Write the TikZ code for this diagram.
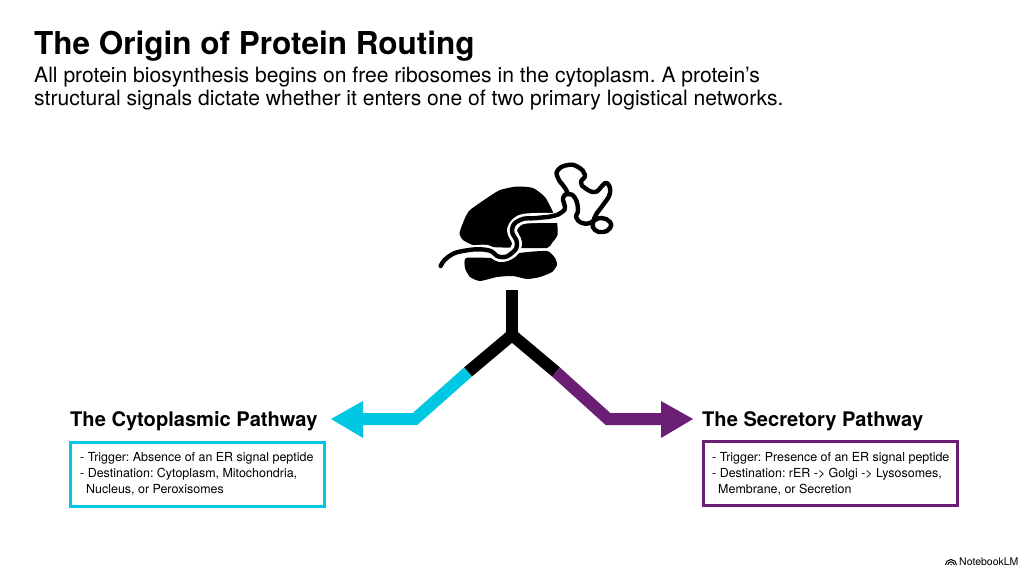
\documentclass[tikz,border=0pt]{standalone}
\usepackage{fontspec}
\setmainfont{TeX Gyre Heros}
\frenchspacing
\definecolor{cytocol}{RGB}{0,200,227}
\definecolor{secrcol}{RGB}{106,31,116}
\begin{document}
\begin{tikzpicture}[x=1pt,y=-1pt,
  headline/.style={anchor=base west,inner sep=0pt,font=\fontsize{20.1}{24}\selectfont\bfseries},
  infobox/.style={draw=#1,line width=3pt,minimum width=254pt,minimum height=64pt,anchor=north west,inner sep=0pt},
  infotext/.style={anchor=north west,inner sep=0pt,align=left,font=\fontsize{12.45}{16.2}\selectfont},
  branch/.style={line width=12pt,line join=miter,line cap=butt},
  tiphead/.style={fill=#1,draw=none},
  chain/.style={line width=4.4pt,line cap=round,line join=round}]
\useasboundingbox (0,0) rectangle (1024,572);
% heading
\node[anchor=base west,inner sep=0pt,font=\fontsize{31.5}{36}\selectfont\bfseries] (title) at (34,55) {The Origin of Protein Routing};
\node[anchor=north west,inner sep=0pt,align=left,font=\fontsize{21.1}{23}\selectfont] (intro) at (34,67)
  {All protein biosynthesis begins on free ribosomes in the cytoplasm. A protein’s\\
   structural signals dictate whether it enters one of two primary logistical networks.};
% ribosome subunits
\fill plot[smooth cycle,tension=0.35] coordinates {(459.5,233) (465,218) (470,210) (487,198) (500,190) (517,186.5) (533,188) (545,197) (552,210) (557,222) (557.5,235) (552,243) (547,248) (520,248) (490,247) (473,245) (463,240)};
\fill plot[smooth cycle,tension=0.35] coordinates {(466,258) (490,258) (503,260) (520,253) (547,251) (555,258) (557,265) (552,272) (540,277) (527,279) (513,276) (497,277) (480,281) (470,277) (465,268)};
% nascent chain: halo over the ribosome, then the strand and its folded end
\draw[white,line width=10pt,line cap=round,line join=round] plot[smooth,tension=0.6] coordinates {(470,251) (487,250) (500,257) (512,253) (517,243) (512,230) (520,220) (537,218) (557,218)};
\draw[chain] plot[smooth,tension=0.85] coordinates {(440.7,266) (448,257) (463,251) (487,250) (500,257) (512,253) (517,243) (512,230) (520,220) (537,218) (553,216) (562,212) (565,207) (563,198) (568,194) (575,198) (578,210) (576,217) (582,223) (590,223) (595,220) (602,218) (610,222) (610,228) (603,232) (595,230) (593,223) (597,213) (603,205) (610,193) (607,183) (602,186) (595,192) (585,188) (581,182) (585,175) (578,167) (568,165) (558,170) (558,178) (565,188) (568,194)};
% stem and black part of the branches
\coordinate (stemtop) at (512,290);
\coordinate (fork) at (512,335);
\coordinate (leftjoin) at (468,372);
\coordinate (rightjoin) at (556,372);
\draw[branch] (stemtop) -- (fork);
\draw[branch] (leftjoin) -- (fork) -- (rightjoin);
% coloured branches with arrow heads
\coordinate (leftbend) at (415,419);
\coordinate (rightbend) at (608,419);
\coordinate (lefthead) at (363,419);
\coordinate (righthead) at (662,419);
\draw[branch,cytocol] (leftjoin) -- (leftbend) -- (lefthead);
\draw[branch,secrcol] (rightjoin) -- (rightbend) -- (righthead);
\fill[tiphead=cytocol] (331,419) -- (363,401) -- (363,438) -- cycle;
\fill[tiphead=secrcol] (693,419) -- (661,401) -- (661,438) -- cycle;
% pathway panels
\node[headline] (cytohead) at (70,426) {The Cytoplasmic Pathway};
\node[infobox=cytocol] (cytobox) at (69.3,440.5) {};
\node[infotext] (cytotext) at (80,452) {- Trigger: Absence of an ER signal peptide\\- Destination: Cytoplasm, Mitochondria,\\\hspace*{6pt}Nucleus, or Peroxisomes};
\node[headline] (secrhead) at (702,426) {The Secretory Pathway};
\node[infobox=secrcol] (secrbox) at (701.7,440.3) {};
\node[infotext] (secrtext) at (712,452) {- Trigger: Presence of an ER signal peptide\\- Destination: rER -> Golgi -> Lysosomes,\\\hspace*{6pt}Membrane, or Secretion};
% footer mark
\node[anchor=base west,inner sep=0pt,font=\fontsize{10.5}{12}\selectfont] (brand) at (959,565) {NotebookLM};
\draw[line width=1pt] (945.5,565) arc[start angle=180,end angle=360,radius=5.5];
\draw[line width=1pt] (947.8,565) arc[start angle=180,end angle=360,radius=3.2];
\fill (950,565) arc[start angle=180,end angle=360,radius=1];
\end{tikzpicture}
\end{document}
